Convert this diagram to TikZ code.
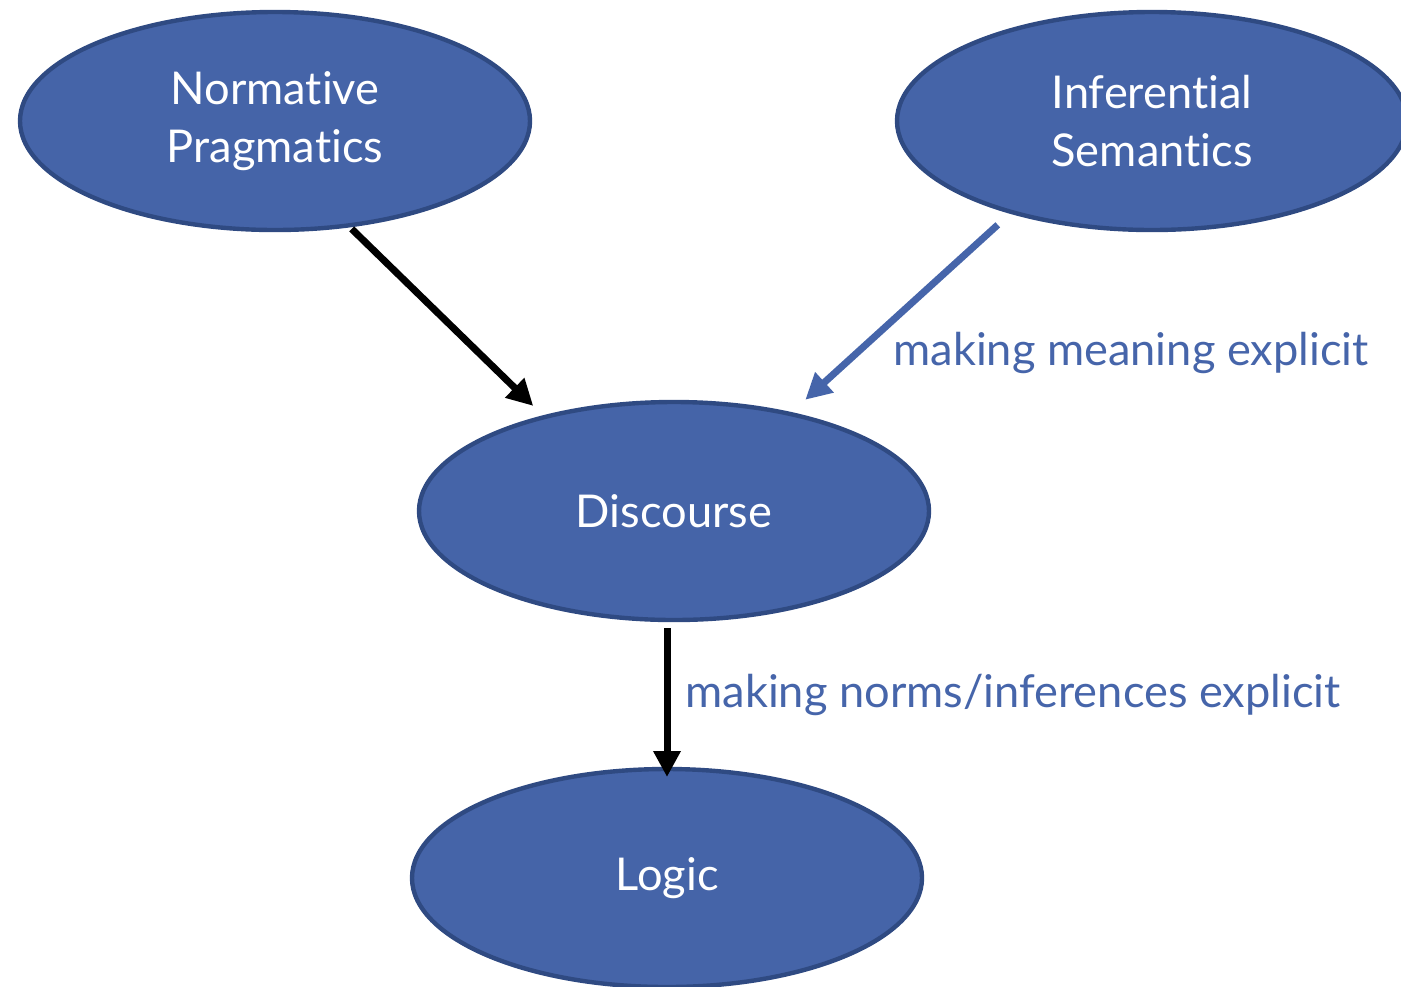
\documentclass[tikz,border=0pt]{standalone}
\usepackage{fontspec}
\setmainfont{Lato}[Ligatures=NoCommon]
\usetikzlibrary{arrows.meta,shapes.geometric}
\definecolor{nodefill}{RGB}{69,100,168}
\definecolor{nodeedge}{RGB}{47,74,130}
\definecolor{labelblue}{RGB}{70,101,170}
\tikzset{
  bubble/.style={ellipse, draw=nodeedge, fill=nodefill, line width=2.2pt,
    minimum width=255pt, minimum height=109pt, inner sep=0pt, outer sep=0pt,
    text=white, align=center, font=\fontsize{22.6}{29}\selectfont},
  flow/.style={line width=3.5pt, -{Triangle[length=13pt,width=13pt]}},
  edgelabel/.style={text=labelblue, anchor=base west, inner sep=0pt,
    font=\fontsize{22.6}{26}\selectfont}
}
\begin{document}
\begin{tikzpicture}[x=0.5pt,y=-0.5pt]
\useasboundingbox (0,0) rectangle (1401,986);
\node[bubble] (np) at (275,121) {Normative\\Pragmatics};
\node[bubble] (is) at (1152,121) {Inferential\\Semantics};
\node[bubble] (d) at (674,511) {Discourse};
\node[bubble] (l) at (667,878) {Logic};
\draw[flow, black, shorten <=2.5pt, shorten >=8pt] (np.-55) -- (d.144);
\draw[flow, labelblue, shorten <=9.5pt, shorten >=10.5pt] (is.213) -- (d.40);
\draw[flow, black, shorten <=4pt, shorten >=-4pt] (l.north |- d.south) -- (l.north);
\node[edgelabel] (lab1) at (893,365) {making meaning explicit};
\node[edgelabel] (lab2) at (685,707) {making norms/inferences explicit};
\end{tikzpicture}
\end{document}
